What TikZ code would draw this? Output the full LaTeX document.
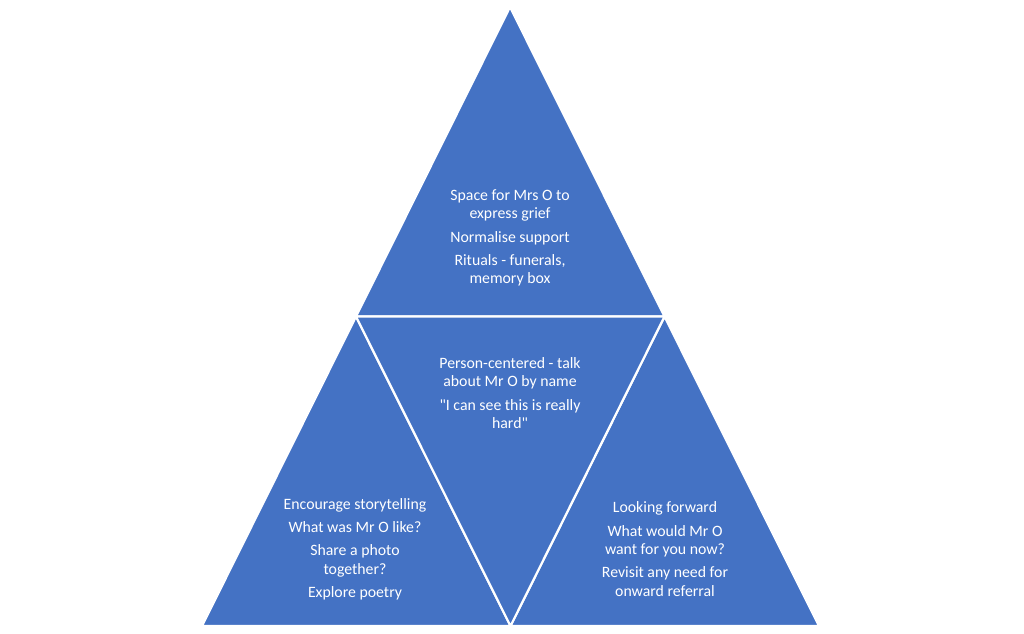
\documentclass[tikz,border=0pt]{standalone}
\usepackage{fontspec}
\setmainfont{Carlito}
\newfontfamily\lblfont{Carlito}
\usetikzlibrary{calc}
\definecolor{tblue}{HTML}{4472C4}
\begin{document}
\begin{tikzpicture}[x=1pt,y=-1pt,
  tri/.style={fill=tblue,draw=white,line width=2.2pt,line join=miter},
  lbl/.style={text=white,align=center,font=\lblfont\fontsize{15.8}{18.3}\selectfont,inner sep=0pt}]
\useasboundingbox (0,0) rectangle (1024,633);
\coordinate (A) at (510,7);
\coordinate (B) at (202,626);
\coordinate (C) at (819,626);
\coordinate (L) at ($(A)!0.5!(B)$);
\coordinate (R) at ($(A)!0.5!(C)$);
\coordinate (M) at ($(B)!0.5!(C)$);
\fill[tblue] (A) -- (B) -- (C) -- cycle;
\draw[tri] (A) -- (L) -- (R) -- cycle;
\draw[tri] (L) -- (B) -- (M) -- cycle;
\draw[tri] (R) -- (M) -- (C) -- cycle;
\draw[tri] (L) -- (R) -- (M) -- cycle;
\node[lbl] (top) at (510,238) {Space for Mrs O to\\express grief\\[5pt]Normalise support\\[5pt]Rituals - funerals,\\memory box};
\node[lbl] (mid) at (510,393) {Person-centered - talk\\about Mr O by name\\[5pt]"I can see this is really\\hard"};
\node[lbl] (left) at (355,549) {Encourage storytelling\\[5pt]What was Mr O like?\\[5pt]Share a photo\\together?\\[5pt]Explore poetry};
\node[lbl] (right) at (665,549) {Looking forward\\[5pt]What would Mr O\\want for you now?\\[5pt]Revisit any need for\\onward referral};
\end{tikzpicture}
\end{document}
